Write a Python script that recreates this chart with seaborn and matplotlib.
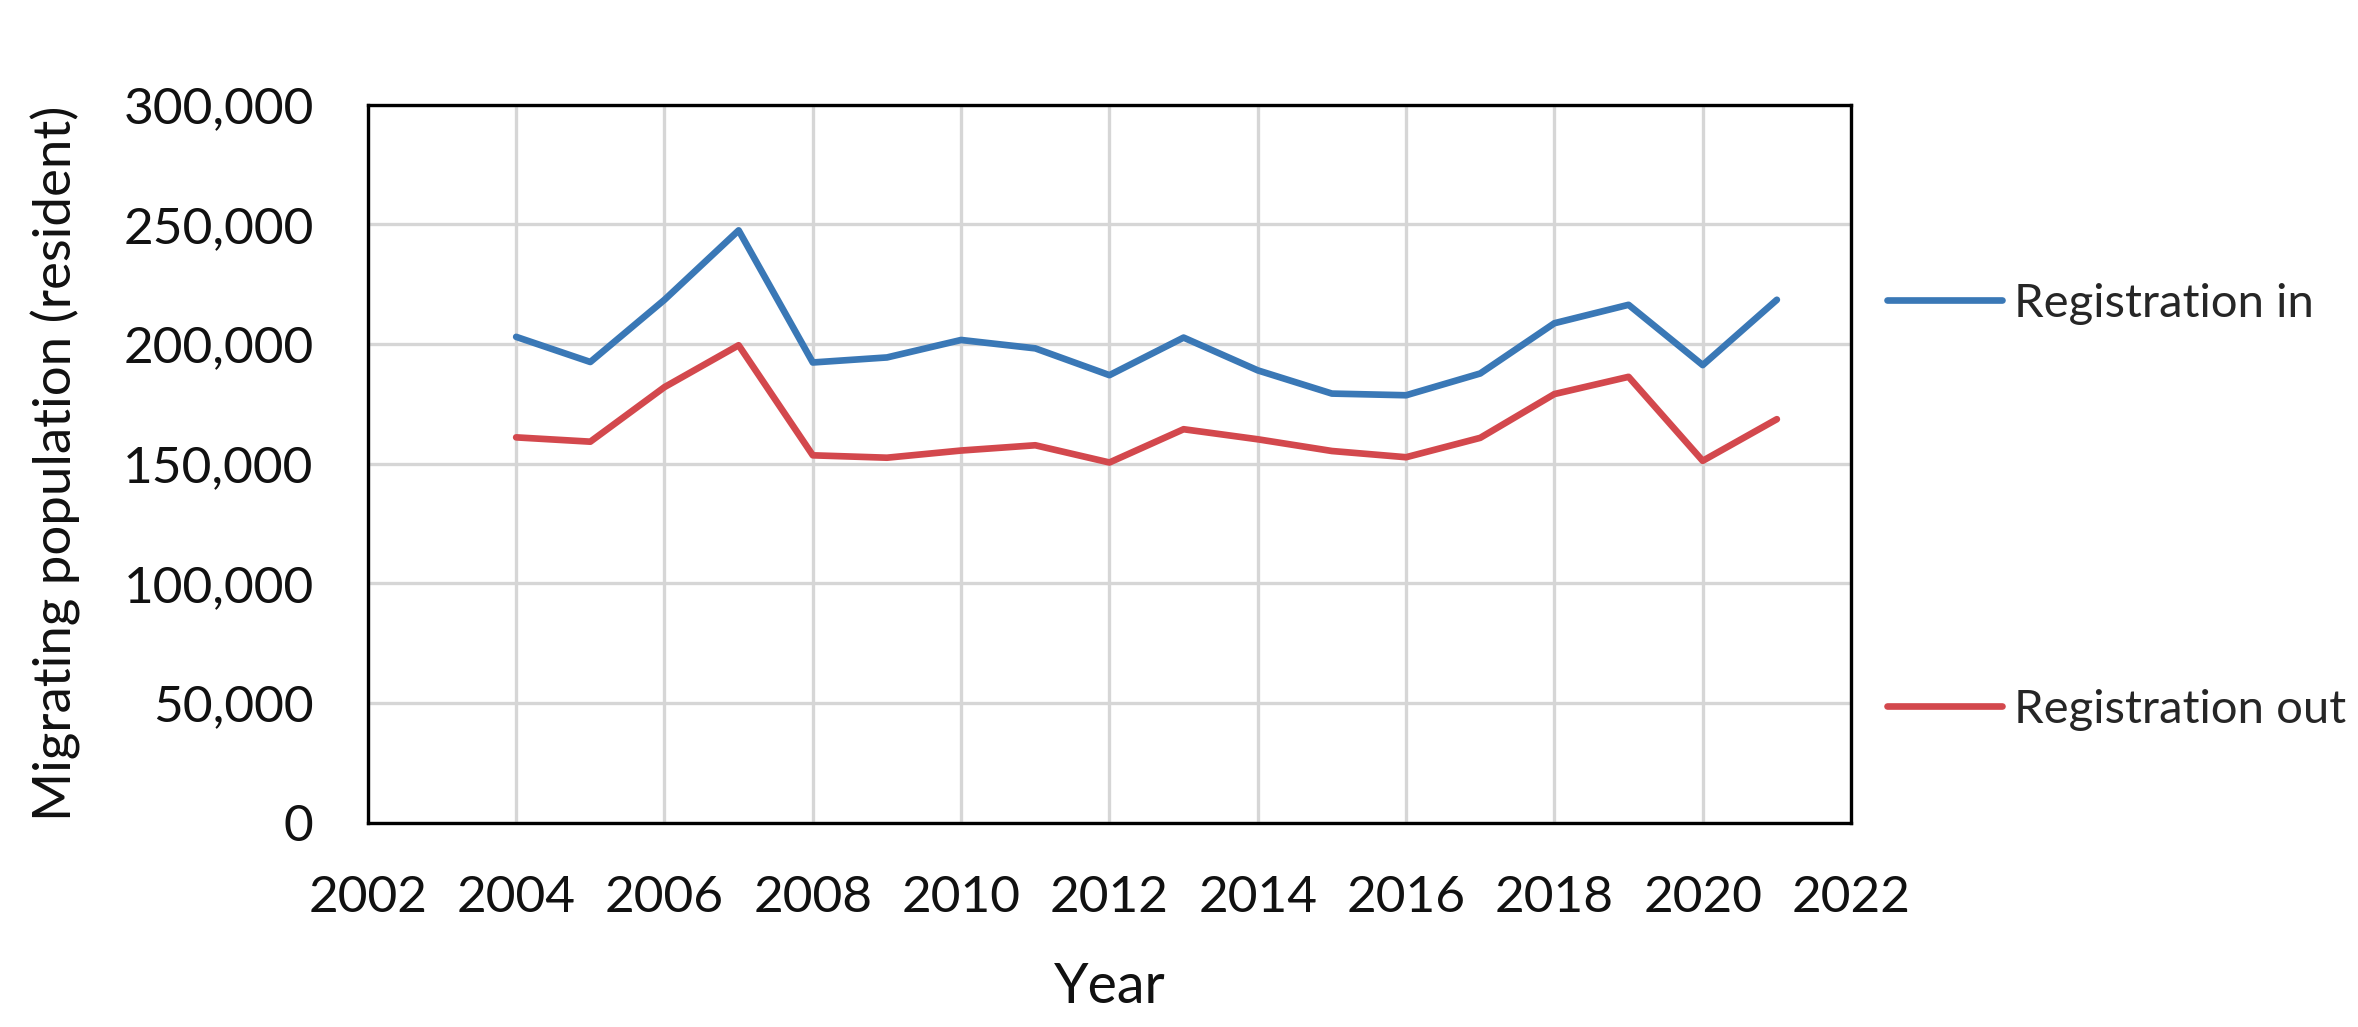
import pandas as pd
import seaborn as sns
import matplotlib.pyplot as plt
from matplotlib.ticker import FuncFormatter, MultipleLocator

years = list(range(2004, 2022))
reg_in = [203000, 192500, 218500, 247500, 192300, 194400, 201700, 198200, 187000,
          202700, 189000, 179300, 178600, 187700, 208700, 216400, 191200, 218500]
reg_out = [161000, 159200, 182000, 199500, 153500, 152500, 155500, 157700, 150500,
           164400, 160200, 155300, 152700, 160800, 179100, 186300, 151200, 168600]
series_names = ["Registration in", "Registration out"]
colors = ["#3A78B6", "#D3484D"]

df = pd.concat([
    pd.DataFrame({"Year": years, "value": reg_in, "series": series_names[0]}),
    pd.DataFrame({"Year": years, "value": reg_out, "series": series_names[1]}),
])

sns.set_theme(style="white")
plt.rcParams['font.family'] = ['Lato', 'DejaVu Sans']

fig, ax = plt.subplots(figsize=(23.58, 10.27), dpi=100)
fig.subplots_adjust(left=0.156, right=0.785, top=0.898, bottom=0.199)

sns.lineplot(data=df, x="Year", y="value", hue="series", palette=colors,
             linewidth=4.8, ax=ax, zorder=3)

ax.set_xlim(2002, 2022)
ax.set_ylim(0, 300000)
ax.xaxis.set_major_locator(MultipleLocator(2))
ax.yaxis.set_major_locator(MultipleLocator(50000))
ax.yaxis.set_major_formatter(FuncFormatter(lambda v, p: f"{int(v):,}"))
ax.grid(True, color="#d6d6d6", linewidth=2.4)
ax.set_axisbelow(True)
for s in ax.spines.values():
    s.set_color("black")
    s.set_linewidth(2.4)
    s.set_visible(True)
ax.tick_params(axis="both", length=0, labelsize=37, colors="#111111")
ax.tick_params(axis="x", pad=38)
ax.tick_params(axis="y", pad=39)

ax.set_xlabel("Year", fontsize=40, color="#111111")
ax.set_ylabel("Migrating population (resident)", fontsize=38, color="#111111")
ax.xaxis.set_label_coords(0.5, -0.23)
ax.xaxis.label.set_va("center")
ax.yaxis.set_label_coords(-0.21, 0.5)
ax.yaxis.label.set_va("center")

ax.legend(loc="center left", bbox_to_anchor=(1.024, 0.44), frameon=False,
          fontsize=34, handlelength=2.45, handletextpad=0.25, labelspacing=7.7,
          borderaxespad=0, borderpad=0)

fig.savefig("out.png", dpi=100, facecolor="white")
